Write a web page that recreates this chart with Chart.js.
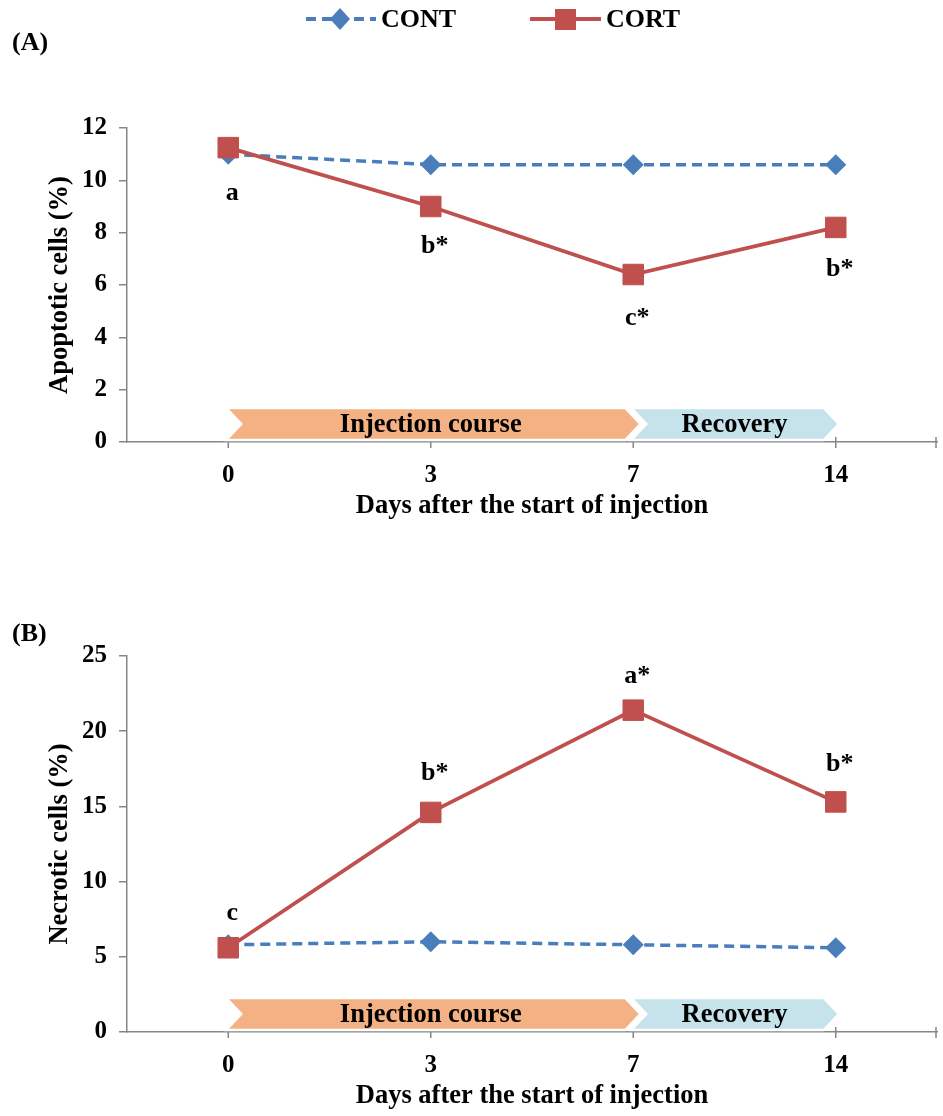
<!DOCTYPE html>
<html>
<head>
<meta charset="utf-8">
<script src="https://cdn.jsdelivr.net/npm/chart.js@4.4.1/dist/chart.umd.min.js"></script>
<style>
  html, body { margin: 0; padding: 0; background: #fff; }
  #wrap { position: relative; width: 943px; height: 1116px; }
  .panel { position: absolute; left: 0; width: 943px; }
</style>
</head>
<body>
<div id="wrap">
  <div class="panel" style="top:0;height:526px"><canvas id="cA" width="943" height="526"></canvas></div>
  <div class="panel" style="top:526px;height:590px"><canvas id="cB" width="943" height="590"></canvas></div>
</div>
<script>
// ── Data ───────────────────────────────────────────────────
const days = ['0', '3', '7', '14'];

// (A) apoptotic cells (%)
const apoCont = [11.0, 10.6, 10.6, 10.6];
const apoCort = [11.25, 9.0, 6.4, 8.2];
const apoLetters = ['a', 'b*', 'c*', 'b*'];

// (B) necrotic cells (%)
const necCont = [5.8, 6.0, 5.8, 5.6];
const necCort = [5.6, 14.6, 21.4, 15.3];
const necLetters = ['c', 'b*', 'a*', 'b*'];

// phase arrows along the x axis
const phaseLabels = ['Injection course', 'Recovery'];
const phaseFrom   = ['0', '7'];
const phaseTo     = ['7', '14'];

// ── Style ──────────────────────────────────────────────────
const SERIF = "'Liberation Serif','Times New Roman',serif";
const bold = px => `bold ${px}px ${SERIF}`;
const BLUE = '#4A7EBB', RED = '#C0504D', AXIS = '#868686';
const phaseColors = ['#F4B183', '#C6E3EC'];
const phaseTip = [7, 3];

const extras = {
  id: 'extras',
  beforeDatasetsDraw(chart) {
    const { ctx } = chart, x = chart.scales.x, y = chart.scales.y;
    ctx.save();
    // cross tick marks on the x axis
    ctx.strokeStyle = AXIS; ctx.lineWidth = 1.5;
    const tx = days.map((_, i) => x.getPixelForValue(i)).concat([chart.chartArea.right - 1]);
    tx.forEach(px => {
      ctx.beginPath(); ctx.moveTo(px, y.bottom - 5); ctx.lineTo(px, y.bottom + 6); ctx.stroke();
    });
    // phase arrows
    const bot = y.bottom - 2, top = bot - 32, mid = (top + bot) / 2, d = 15;
    phaseLabels.forEach((lbl, i) => {
      const a = x.getPixelForValue(days.indexOf(phaseFrom[i]));
      const b = x.getPixelForValue(days.indexOf(phaseTo[i]));
      const x0 = a - 2, x1 = b + phaseTip[i];
      ctx.beginPath();
      ctx.moveTo(x0, top); ctx.lineTo(x1 - d, top); ctx.lineTo(x1, mid);
      ctx.lineTo(x1 - d, bot); ctx.lineTo(x0, bot); ctx.lineTo(x0 + d, mid);
      ctx.closePath();
      ctx.fillStyle = phaseColors[i]; ctx.fill();
      ctx.strokeStyle = '#fff'; ctx.lineWidth = 2.5; ctx.stroke();
      ctx.fillStyle = '#000'; ctx.font = bold(26.5);
      ctx.textAlign = 'center'; ctx.textBaseline = 'middle';
      ctx.fillText(lbl, (a + b) / 2, mid + 1);
    });
    ctx.restore();
  },
  afterDatasetsDraw(chart, args, o) {
    const { ctx } = chart, x = chart.scales.x, y = chart.scales.y;
    ctx.save();
    ctx.fillStyle = '#000'; ctx.font = bold(26);
    ctx.textAlign = 'center'; ctx.textBaseline = 'middle';
    o.letters.forEach((t, i) => {
      ctx.fillText(t, x.getPixelForValue(i) + 4, y.getPixelForValue(o.anchor[i]) + o.offset[i]);
    });
    ctx.font = bold(26);
    ctx.textAlign = 'left';
    ctx.fillText(o.panel, 12, o.panelY);
    if (o.legend) {
      const ly = 19;
      ctx.lineWidth = 4;
      ctx.strokeStyle = BLUE; ctx.setLineDash([10, 6]);
      ctx.beginPath(); ctx.moveTo(306, ly); ctx.lineTo(376, ly); ctx.stroke();
      ctx.setLineDash([]);
      ctx.fillStyle = BLUE;
      ctx.beginPath();
      ctx.moveTo(340, ly - 11); ctx.lineTo(350, ly); ctx.lineTo(340, ly + 11); ctx.lineTo(330, ly);
      ctx.closePath(); ctx.fill();
      ctx.strokeStyle = RED;
      ctx.beginPath(); ctx.moveTo(530, ly); ctx.lineTo(601, ly); ctx.stroke();
      ctx.fillStyle = RED; ctx.fillRect(555, ly - 10, 21, 21);
      ctx.fillStyle = '#000'; ctx.font = bold(26);
      ctx.textAlign = 'left';
      ctx.fillText('CONT', 381, ly + 1);
      ctx.fillText('CORT', 606, ly + 1);
    }
    ctx.restore();
  }
};

function makePanel(id, cont, cort, yTitle, yMax, yStep, padTop, extra) {
  return new Chart(document.getElementById(id), {
    type: 'line',
    data: {
      labels: days,
      datasets: [
        {
          label: 'CONT', data: cont, order: 2,
          borderColor: BLUE, borderWidth: 3.5, borderDash: [10, 6], tension: 0,
          pointStyle: 'rectRot', pointRadius: 10.5, pointBackgroundColor: BLUE, pointBorderColor: BLUE, pointBorderWidth: 0,
        },
        {
          label: 'CORT', data: cort, order: 1,
          borderColor: RED, borderWidth: 3.8, tension: 0,
          pointStyle: 'rect', pointRadius: 14.5, pointBackgroundColor: RED, pointBorderColor: RED, pointBorderWidth: 1,
        },
      ],
    },
    options: {
      responsive: false, animation: false, events: [],
      layout: { autoPadding: false, padding: { top: padTop, right: 6, left: 0, bottom: 0 } },
      plugins: { legend: { display: false }, tooltip: { enabled: false }, extras: extra },
      scales: {
        x: {
          offset: true,
          grid: { display: false, drawTicks: false },
          border: { color: AXIS, width: 1.5 },
          ticks: { color: '#000', padding: 19, font: { family: SERIF, weight: 'bold', size: 25 } },
          title: { display: true, text: 'Days after the start of injection', color: '#000',
                   padding: { bottom: 4 }, font: { family: SERIF, weight: 'bold', size: 26.5 } },
          afterFit: s => { s.height = 84; },
        },
        y: {
          min: 0, max: yMax,
          grid: { drawOnChartArea: false, drawTicks: true, tickLength: 8, color: AXIS, lineWidth: 1.5 },
          border: { color: AXIS, width: 1.5 },
          ticks: { stepSize: yStep, color: '#000', padding: 12, font: { family: SERIF, weight: 'bold', size: 25 } },
          title: { display: true, text: yTitle, color: '#000',
                   padding: { top: 44 }, font: { family: SERIF, weight: 'bold', size: 26.5 } },
          afterFit: s => { s.width = 127; },
        },
      },
    },
    plugins: [extras],
  });
}

makePanel('cA', apoCont, apoCort, 'Apoptotic cells (%)', 12, 2, 128,
  { letters: apoLetters, anchor: apoCort, offset: [46, 40, 44, 42], panel: '(A)', panelY: 43, legend: true });
makePanel('cB', necCont, necCort, 'Necrotic cells (%)', 25, 5, 130,
  { letters: necLetters, anchor: necCort, offset: [-34, -39, -34, -38], panel: '(B)', panelY: 108, legend: false });
</script>
</body>
</html>
